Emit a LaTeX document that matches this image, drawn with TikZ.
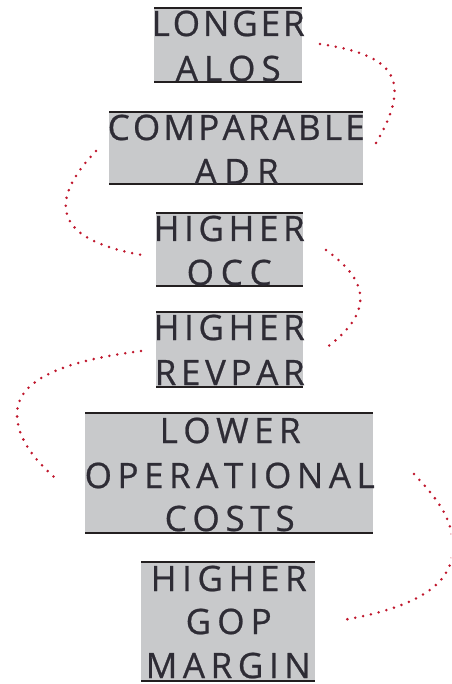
\documentclass[tikz,border=0pt]{standalone}
\usepackage{fontspec}
\setmainfont{Open Sans}
\newfontfamily\labelfont[FakeBold=0.7]{Open Sans}
\definecolor{boxgray}{RGB}{200,201,203}
\definecolor{rulecol}{RGB}{35,31,32}
\definecolor{inkgray}{RGB}{46,44,53}
\definecolor{dotred}{RGB}{192,22,44}

% spread the letters of a word evenly over a given width
\def\spreadletters#1{\ifx#1\relax\else#1\expandafter\spreadnext\fi}
\def\spreadnext#1{\ifx#1\relax\else\hfil#1\expandafter\spreadnext\fi}
\newcommand\spreadword[2]{\hbox to \dimexpr#1+5pt\relax{\spreadletters#2\relax}}

\begin{document}
\begin{tikzpicture}[x=1pt,y=-1pt,
  box/.style={fill=boxgray, draw=none, inner sep=0pt, outer sep=0pt, anchor=north west},
  rule/.style={draw=rulecol, line width=1.4pt},
  word/.style={anchor=base west, inner sep=0pt, xshift=-2.5pt, text=inkgray,
    font=\labelfont\fontsize{35}{35}\selectfont},
  link/.style={draw=dotred, line width=2.8pt, line cap=round, dash pattern=on 0pt off 8pt}]
\clip (0,0) rectangle (451,684);
\fill[white] (0,0) rectangle (451,684);

% grey boxes
\node[box, minimum width=148pt, minimum height=74pt]  (b1) at (154,8)   {};
\node[box, minimum width=254pt, minimum height=72pt]  (b2) at (109,112) {};
\node[box, minimum width=147pt, minimum height=73pt]  (b3) at (156,213) {};
\node[box, minimum width=147pt, minimum height=75pt]  (b4) at (156,312) {};
\node[box, minimum width=288pt, minimum height=120pt] (b5) at (85,413)  {};
\node[box, minimum width=174pt, minimum height=119pt] (b6) at (141,562) {};
\foreach \b in {b1,b2,b3,b4,b5,b6}
  \draw[rule] (\b.north west) -- (\b.north east) (\b.south west) -- (\b.south east);

% labels
\node[word] (w1a) at (154,36)  {\spreadword{148pt}{LONGER}};
\node[word] (w1b) at (178,81)  {\spreadword{100pt}{ALOS}};
\node[word] (w2a) at (110,140) {\spreadword{252pt}{COMPARABLE}};
\node[word] (w2b) at (197,184) {\spreadword{79pt}{ADR}};
\node[word] (w3a) at (156,241) {\spreadword{146pt}{HIGHER}};
\node[word] (w3b) at (189,285) {\spreadword{80pt}{OCC}};
\node[word] (w4a) at (156,340) {\spreadword{146pt}{HIGHER}};
\node[word] (w4b) at (157,385) {\spreadword{145pt}{REVPAR}};
\node[word] (w5a) at (162,443) {\spreadword{136pt}{LOWER}};
\node[word] (w5b) at (87,488)  {\spreadword{285pt}{OPERATIONAL}};
\node[word] (w5c) at (167,531) {\spreadword{125pt}{COSTS}};
\node[word] (w6a) at (153,591) {\spreadword{151pt}{HIGHER}};
\node[word] (w6b) at (188,634) {\spreadword{81pt}{GOP}};
\node[word] (w6c) at (148,678) {\spreadword{160pt}{MARGIN}};

% dotted links
\coordinate (l1s) at (320,44);  \coordinate (l1e) at (373,148);
\coordinate (l2s) at (96,151);  \coordinate (l2e) at (142,255);
\coordinate (l3s) at (326,250); \coordinate (l3e) at (326,348);
\coordinate (l4s) at (141,351); \coordinate (l4m) at (17,414);  \coordinate (l4e) at (54,477);
\coordinate (l5s) at (414,474); \coordinate (l5m) at (453,547); \coordinate (l5e) at (343,620);

\draw[link] (l1s) .. controls (395,55) and (415,80) .. (l1e);
\draw[link] (l2s) .. controls (44.3,205) and (58.3,240.5) .. (l2e);
\draw[link] (l3s) .. controls (372,283) and (371.6,314) .. (l3e);
\draw[link] (l4s) .. controls (81,358.8) and (17,374) .. (l4m)
                  .. controls (17,439) and (35.5,460.25) .. (l4e);
\draw[link] (l5s) .. controls (434.4,495.9) and (453,517) .. (l5m)
                  .. controls (453,587) and (412,608.1) .. (l5e);
\end{tikzpicture}
\end{document}
